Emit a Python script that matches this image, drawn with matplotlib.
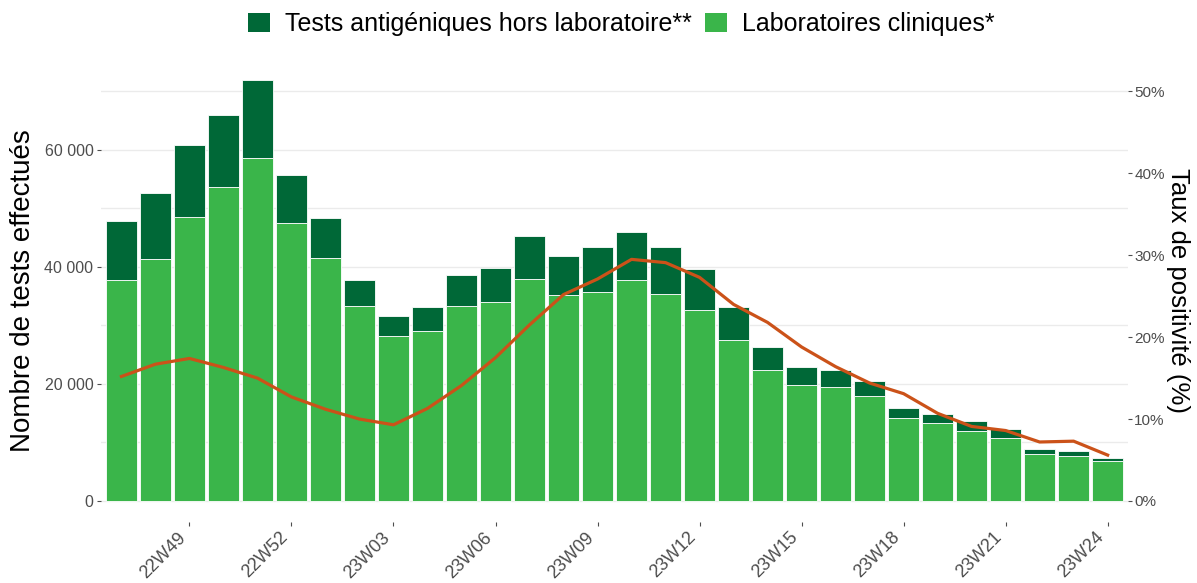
import matplotlib
matplotlib.use("Agg")
import matplotlib.pyplot as plt
import matplotlib.transforms as mtransforms
from matplotlib.patches import Patch

plt.rcParams['font.family'] = ['Liberation Sans', 'DejaVu Sans']

weeks = ["22W47", "22W48", "22W49", "22W50", "22W51", "22W52",
         "23W01", "23W02", "23W03", "23W04", "23W05", "23W06",
         "23W07", "23W08", "23W09", "23W10", "23W11", "23W12",
         "23W13", "23W14", "23W15", "23W16", "23W17", "23W18",
         "23W19", "23W20", "23W21", "23W22", "23W23", "23W24"]

total_tests = [47800, 52700, 60900, 66000, 72000, 55700, 48300, 37800, 31700, 33200,
               38600, 39900, 45300, 41900, 43400, 46000, 43400, 39600, 33200, 26400,
               22900, 22400, 20500, 15900, 14900, 13600, 12300, 8900, 8500, 7300]
lab_tests = [37700, 41400, 48500, 53700, 58700, 47500, 41500, 33400, 28200, 29100,
             33300, 34000, 37900, 35200, 35700, 37700, 35400, 32600, 27600, 22400,
             19800, 19400, 17900, 14200, 13300, 12000, 10800, 8100, 7600, 6800]
antigen_tests = [t - l for t, l in zip(total_tests, lab_tests)]
positivity = [15.2, 16.7, 17.4, 16.3, 15.0, 12.7, 11.2, 10.0, 9.3, 11.3,
              14.1, 17.5, 21.5, 25.2, 27.1, 29.5, 29.1, 27.3, 24.0, 21.8,
              18.8, 16.4, 14.4, 13.1, 10.7, 9.1, 8.6, 7.2, 7.3, 5.6]

tick_weeks = ["22W49", "22W52", "23W03", "23W06", "23W09", "23W12",
              "23W15", "23W18", "23W21", "23W24"]
left_ticks = [0, 20000, 40000, 60000]
left_labels = ["0", "20 000", "40 000", "60 000"]
right_ticks = [0, 10, 20, 30, 40, 50]

dark_green = "#006837"
light_green = "#3ab54a"
line_color = "#cb5219"
grid_color = "#ebebeb"
tick_color = "#4d4d4d"

fig = plt.figure(figsize=(11.97, 5.83), dpi=100)
ax = fig.add_axes([0.0844, 0.1046, 0.858, 0.7947])

x = list(range(len(weeks)))
ax.bar(x, lab_tests, width=0.9, color=light_green, edgecolor="white", linewidth=0.6, zorder=2)
ax.bar(x, antigen_tests, width=0.9, bottom=lab_tests, color=dark_green,
       edgecolor="white", linewidth=0.6, zorder=2)

ymin, ymax = -3600, 75600
ax.set_ylim(ymin, ymax)
ax.set_xlim(-0.6, len(weeks) - 0.4)
for gy in range(10000, 80000, 10000):
    ax.axhline(gy, color=grid_color, linewidth=1.0, zorder=0)
ax.axhline(0, color=grid_color, linewidth=1.0, zorder=0)

ax.set_yticks(left_ticks)
ax.set_yticklabels(left_labels)
ax.tick_params(axis='y', length=3, color=tick_color, labelcolor=tick_color, labelsize=11.5, pad=2.5)
ax.set_xticks([weeks.index(w) for w in tick_weeks])
ax.set_xticklabels(tick_weeks, rotation=45, ha='right', rotation_mode='default')
offset = mtransforms.ScaledTranslation(11 / 100, 0, fig.dpi_scale_trans)
for lbl in ax.get_xticklabels():
    lbl.set_transform(lbl.get_transform() + offset)
ax.tick_params(axis='x', length=3, color=tick_color, labelcolor=tick_color, labelsize=13, pad=2)
for s in ax.spines.values():
    s.set_visible(False)
ax.set_ylabel("Nombre de tests effectués", fontsize=20, labelpad=6)

ax2 = ax.twinx()
ratio = 1400.0
ax2.set_ylim(ymin / ratio, ymax / ratio)
ax2.plot(x, positivity, color=line_color, linewidth=2.3, zorder=3, solid_joinstyle='round')
ax2.set_yticks(right_ticks)
ax2.set_yticklabels([f"{v}%" for v in right_ticks])
ax2.tick_params(axis='y', length=3, color=tick_color, labelcolor=tick_color, labelsize=11, pad=1.5)
for s in ax2.spines.values():
    s.set_visible(False)
ax2.set_ylabel("Taux de positivité (%)", fontsize=18.5, rotation=270, labelpad=18)

handles = [Patch(facecolor=dark_green, label="Tests antigéniques hors laboratoire**"),
           Patch(facecolor=light_green, label="Laboratoires cliniques*")]
fig.legend(handles=handles, loc='center', bbox_to_anchor=(0.519, 0.958), ncol=2,
           frameon=False, fontsize=18, handlelength=0.9, handleheight=0.8,
           handletextpad=0.6, columnspacing=0.5)

fig.savefig("out.png", dpi=100)
